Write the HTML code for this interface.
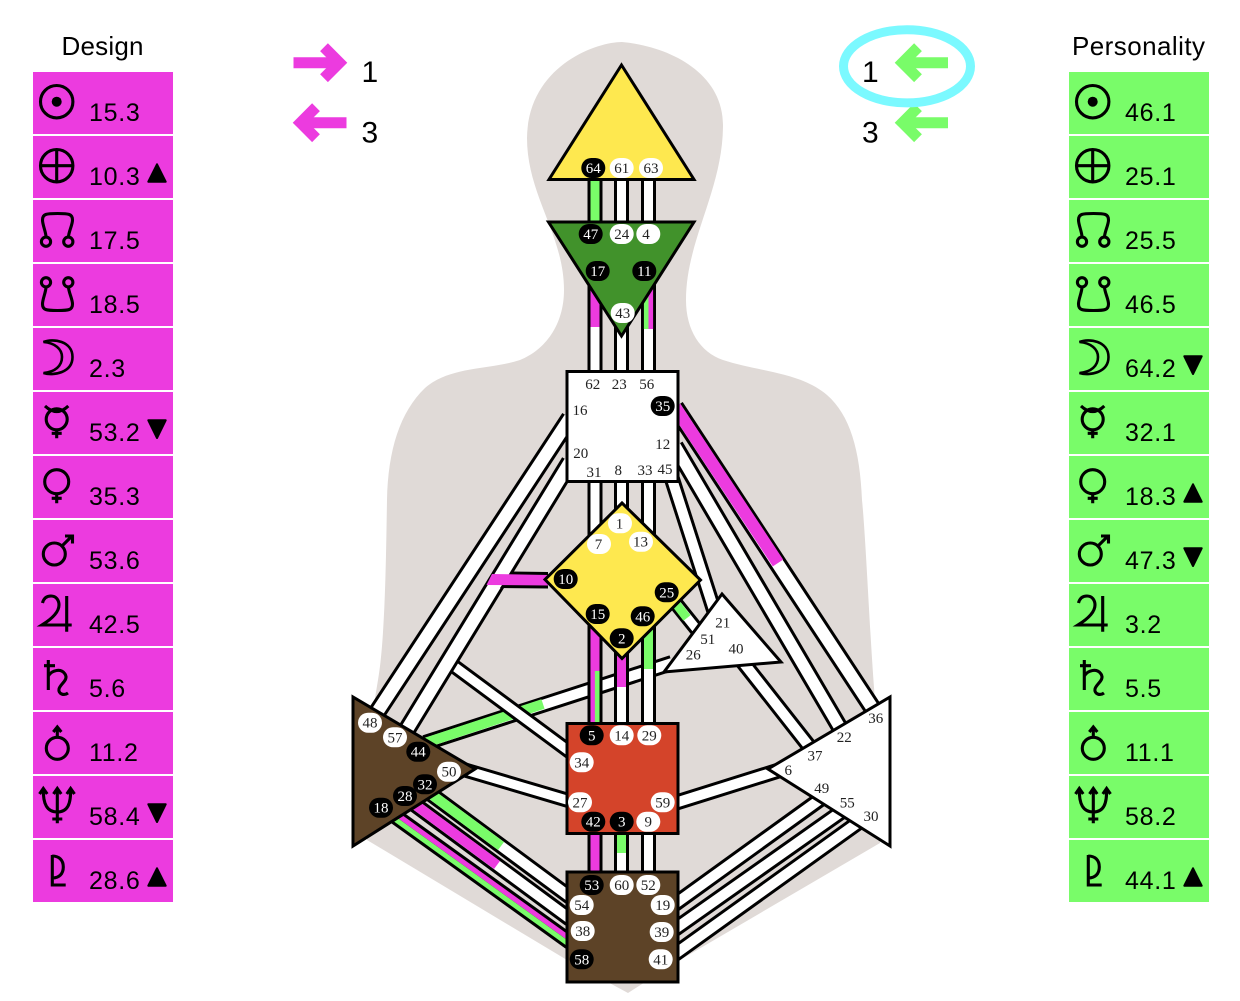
<!DOCTYPE html>
<html lang="en"><head><meta charset="utf-8"><title>Body Graph</title>
<style>
html,body{margin:0;padding:0;background:#fff}
svg{display:block}
.pt{font-family:"Liberation Sans",Arial,sans-serif;font-size:25px;letter-spacing:.7px;fill:#000}
.tt{font-family:"Liberation Sans",Arial,sans-serif;font-size:26px;fill:#000}
.nn{font-family:"Liberation Sans",Arial,sans-serif;font-size:30px;fill:#000}
.n{font-family:"Liberation Serif","Times New Roman",serif;font-size:15px;text-anchor:middle;fill:#222}
.b{fill:#fff}
.k{stroke:#000;stroke-width:15;fill:none}
.w{stroke:#fff;stroke-width:9;fill:none}
.m{stroke:#EC3BDF;stroke-width:9;fill:none}
.g{stroke:#79FC69;stroke-width:9;fill:none}
.s18{stroke-width:18.4}.s12{stroke-width:12.4}
.s17{stroke-width:17.5}.s11{stroke-width:11.5}
.s16{stroke-width:16}.s10{stroke-width:10}
.hm{stroke:#EC3BDF;stroke-width:4.6;fill:none}
.hg{stroke:#79FC69;stroke-width:4.6;fill:none}
.h5{stroke-width:5}
.ic{fill:none;stroke:#000;stroke-width:3.1}
.tr{fill:#000;stroke:#000;stroke-width:2;stroke-linejoin:round}
.ar{fill:none;stroke-width:11;stroke-linejoin:miter}
</style></head><body>
<svg xmlns="http://www.w3.org/2000/svg" width="1240" height="1001" viewBox="0 0 1240 1001">
<rect width="1240" height="1001" fill="#fff"/>

<!-- body -->
<path fill="#E0DAD7" d="M622 42C596 42 528 66 527 138C527 195 564 235 564 290C564 325 545 350 520 360C490 370 450 366 425 388C400 412 388 450 387 500C386 560 385 640 378 680L373 710L367 840L567 960L628 993L680 960L880 843L875 700C870 640 866 540 862 500C860 450 850 415 827 395C800 372 760 372 723 360C700 352 686 330 686 300C686 240 723 190 723 125C723 72 668 46 622 42Z"/>

<!-- channel 26-44 -->
<line class="k s16" x1="425" y1="743" x2="672" y2="663"/>
<line class="w s10" x1="425" y1="743" x2="672" y2="663"/>
<line class="g s10" x1="425" y1="743" x2="543" y2="704"/>

<!-- channel 20-34 -->
<line class="k" x1="445" y1="659.5" x2="570" y2="752"/>
<line class="w" x1="445" y1="659.5" x2="570" y2="752"/>

<!-- left diagonals -->
<line class="k s18" x1="372" y1="720" x2="570" y2="418"/>
<line class="w s12" x1="372" y1="720" x2="570" y2="418"/>
<line class="k s18" x1="403" y1="736" x2="570" y2="462"/>
<line class="w s12" x1="403" y1="736" x2="570" y2="462"/>

<!-- branch 10 -->
<polygon fill="#000" points="511,571.5 548,572 548,588.5 500,588"/>
<polygon fill="#EC3BDF" points="492,574 548,575 548,585.5 486.5,585"/>

<!-- right diagonals -->
<line class="k s18" x1="675" y1="407" x2="875" y2="712"/>
<line class="w s12" x1="675" y1="407" x2="875" y2="712"/>
<line class="m s12" x1="675" y1="407" x2="778" y2="563"/>
<line class="k s17" x1="675" y1="446" x2="843" y2="733"/>
<line class="w s11" x1="675" y1="446" x2="843" y2="733"/>
<line class="k s16" x1="735" y1="652" x2="812" y2="750"/>
<line class="w s10" x1="735" y1="652" x2="812" y2="750"/>
<line class="k s16" x1="671" y1="476" x2="714" y2="610"/>
<line class="w s10" x1="671" y1="476" x2="714" y2="610"/>
<line class="k" x1="670" y1="596" x2="710" y2="646"/>
<line class="w" x1="670" y1="596" x2="710" y2="646"/>
<line class="g" x1="670" y1="596" x2="687" y2="618"/>

<!-- sacral side -->
<line class="k" x1="455" y1="767" x2="570" y2="801"/>
<line class="w" x1="455" y1="767" x2="570" y2="801"/>
<line class="k s16" x1="675" y1="803" x2="785" y2="768.5"/>
<line class="w s10" x1="675" y1="803" x2="785" y2="768.5"/>

<!-- spleen to root -->
<line class="k s16" x1="390" y1="812.5" x2="570" y2="942"/>
<line class="hm h5" x1="391.5" y1="810.5" x2="571.5" y2="940"/>
<line class="hg h5" x1="388.5" y1="814.5" x2="568.5" y2="944"/>
<line class="k s16" x1="410" y1="801" x2="570" y2="919"/>
<line class="w s10" x1="410" y1="801" x2="570" y2="919"/>
<line class="m s10" x1="410" y1="801" x2="497" y2="865"/>
<line class="k s16" x1="428" y1="792" x2="570" y2="897"/>
<line class="w s10" x1="428" y1="792" x2="570" y2="897"/>
<line class="g s10" x1="428" y1="792" x2="501" y2="846"/>

<!-- root to solar plexus -->
<line class="k s16" x1="675" y1="904" x2="822" y2="798"/>
<line class="w s10" x1="675" y1="904" x2="822" y2="798"/>
<line class="k s16" x1="675" y1="929" x2="841" y2="812"/>
<line class="w s10" x1="675" y1="929" x2="841" y2="812"/>
<line class="k s16" x1="675" y1="954" x2="859" y2="822"/>
<line class="w s10" x1="675" y1="954" x2="859" y2="822"/>

<!-- verticals -->
<line class="k" x1="595" y1="175" x2="595" y2="225"/><line class="g" x1="595" y1="175" x2="595" y2="225"/>
<line class="k" x1="621.5" y1="175" x2="621.5" y2="225"/><line class="w" x1="621.5" y1="175" x2="621.5" y2="225"/>
<line class="k" x1="648.5" y1="175" x2="648.5" y2="225"/><line class="w" x1="648.5" y1="175" x2="648.5" y2="225"/>

<line class="k" x1="595" y1="270" x2="595" y2="375"/><line class="w" x1="595" y1="270" x2="595" y2="375"/>
<line class="m" x1="595" y1="270" x2="595" y2="327"/>
<line class="k" x1="621.5" y1="300" x2="621.5" y2="375"/><line class="w" x1="621.5" y1="300" x2="621.5" y2="375"/>
<line class="k" x1="648.5" y1="270" x2="648.5" y2="375"/><line class="w" x1="648.5" y1="270" x2="648.5" y2="375"/>
<line class="hg" x1="646.2" y1="270" x2="646.2" y2="329"/>
<line class="hm" x1="650.8" y1="270" x2="650.8" y2="329"/>

<line class="k" x1="595" y1="478" x2="595" y2="540"/><line class="w" x1="595" y1="478" x2="595" y2="540"/>
<line class="k" x1="621.5" y1="478" x2="621.5" y2="520"/><line class="w" x1="621.5" y1="478" x2="621.5" y2="520"/>
<line class="k" x1="648.5" y1="478" x2="648.5" y2="540"/><line class="w" x1="648.5" y1="478" x2="648.5" y2="540"/>

<line class="k" x1="595" y1="620" x2="595" y2="727"/><line class="m" x1="595" y1="620" x2="595" y2="727"/>
<line class="hg" x1="597.2" y1="671" x2="597.2" y2="727"/>
<line class="k" x1="621.5" y1="645" x2="621.5" y2="727"/><line class="w" x1="621.5" y1="645" x2="621.5" y2="727"/>
<line class="m" x1="621.5" y1="645" x2="621.5" y2="687"/>
<line class="k" x1="648.5" y1="620" x2="648.5" y2="727"/><line class="w" x1="648.5" y1="620" x2="648.5" y2="727"/>
<line class="g" x1="648.5" y1="620" x2="648.5" y2="669"/>

<line class="k" x1="595" y1="830" x2="595" y2="875"/><line class="m" x1="595" y1="830" x2="595" y2="875"/>
<line class="k" x1="621.5" y1="830" x2="621.5" y2="875"/><line class="w" x1="621.5" y1="830" x2="621.5" y2="875"/>
<line class="g" x1="621.5" y1="830" x2="621.5" y2="853"/>
<line class="k" x1="648.5" y1="830" x2="648.5" y2="875"/><line class="w" x1="648.5" y1="830" x2="648.5" y2="875"/>

<!-- centres -->
<g stroke="#000" stroke-width="3">
<polygon fill="#FEE84F" points="621.5,65 549,179.5 694,179.5"/>
<polygon fill="#41922B" points="548.5,222 694,222 621.5,336"/>
<rect fill="#fff" x="567" y="371.5" width="111" height="110"/>
<polygon fill="#fff" points="722,594 781,662 664,672"/>
<polygon fill="#FEE84F" points="622,503 700.5,580 622,658.5 545,579.5"/>
<polygon fill="#5D4327" points="353,697 353,846 475,769"/>
<rect fill="#D4442A" x="567" y="723.5" width="111" height="110"/>
<rect fill="#5D4327" x="567" y="872" width="111" height="110"/>
<polygon fill="#fff" points="890,697 890,846 768,769"/>
</g>

<!-- pills -->
<g fill="#000">
<rect x="581.3" y="158" width="24" height="20" rx="10"/><rect x="578.7" y="224" width="24" height="20" rx="10"/>
<rect x="585.7" y="261" width="24" height="20" rx="10"/><rect x="632.3" y="261" width="24" height="20" rx="10"/>
<rect x="650.7" y="396" width="24" height="20" rx="10"/>
<rect x="553.7" y="569" width="24" height="20" rx="10"/><rect x="654.7" y="582.3" width="24" height="20" rx="10"/>
<rect x="585.7" y="604" width="24" height="20" rx="10"/><rect x="630.7" y="606.3" width="24" height="20" rx="10"/>
<rect x="609.7" y="628.3" width="24" height="20" rx="10"/>
<rect x="406.3" y="741.7" width="24" height="20" rx="10"/><rect x="413" y="774.3" width="24" height="20" rx="10"/>
<rect x="393" y="786" width="24" height="20" rx="10"/><rect x="369" y="797.7" width="24" height="20" rx="10"/>
<rect x="579.7" y="725.3" width="24" height="20" rx="10"/><rect x="581.3" y="811.7" width="24" height="20" rx="10"/>
<rect x="609.7" y="811.7" width="24" height="20" rx="10"/><rect x="579.7" y="875" width="24" height="20" rx="10"/>
<rect x="569.7" y="949.3" width="24" height="20" rx="10"/>
</g>
<g fill="#fff">
<rect x="609.7" y="158" width="24" height="20" rx="10"/><rect x="639" y="158" width="24" height="20" rx="10"/>
<rect x="609.7" y="224" width="24" height="20" rx="10"/><rect x="636.3" y="224" width="24" height="20" rx="10"/>
<rect x="610.7" y="303" width="24" height="20" rx="10"/>
<rect x="608" y="513.3" width="24" height="20" rx="10"/><rect x="587" y="534" width="24" height="20" rx="10"/>
<rect x="629" y="531.7" width="24" height="20" rx="10"/>
<rect x="358" y="712.7" width="24" height="20" rx="10"/><rect x="383" y="727.3" width="24" height="20" rx="10"/>
<rect x="437" y="761.7" width="24" height="20" rx="10"/>
<rect x="609.7" y="725.3" width="24" height="20" rx="10"/><rect x="637.3" y="725.3" width="24" height="20" rx="10"/>
<rect x="569.7" y="752.3" width="24" height="20" rx="10"/><rect x="568" y="792.3" width="24" height="20" rx="10"/>
<rect x="650.7" y="792.3" width="24" height="20" rx="10"/><rect x="636.3" y="811.7" width="24" height="20" rx="10"/>
<rect x="609.7" y="875" width="24" height="20" rx="10"/><rect x="636.3" y="875" width="24" height="20" rx="10"/>
<rect x="569.7" y="895" width="24" height="20" rx="10"/><rect x="650.7" y="895" width="24" height="20" rx="10"/>
<rect x="570.7" y="921" width="24" height="20" rx="10"/><rect x="649.7" y="922" width="24" height="20" rx="10"/>
<rect x="648.7" y="949.3" width="24" height="20" rx="10"/>
</g>

<!-- gate numbers -->
<text class="n b" x="593.3" y="173">64</text><text class="n" x="621.7" y="173">61</text><text class="n" x="651" y="173">63</text>
<text class="n b" x="590.7" y="239">47</text><text class="n" x="621.7" y="239">24</text><text class="n" x="646" y="239">4</text>
<text class="n b" x="597.7" y="276">17</text><text class="n b" x="644.3" y="276">11</text><text class="n" x="622.7" y="318">43</text>
<text class="n" x="592.7" y="389">62</text><text class="n" x="619.3" y="389">23</text><text class="n" x="646.7" y="389">56</text>
<text class="n" x="580" y="415">16</text><text class="n b" x="662.7" y="411">35</text><text class="n" x="662.7" y="449">12</text>
<text class="n" x="580.7" y="458">20</text><text class="n" x="594" y="477">31</text><text class="n" x="618.3" y="475">8</text>
<text class="n" x="645" y="475">33</text><text class="n" x="665" y="474">45</text>
<text class="n" x="619.5" y="528.3">1</text><text class="n" x="598.5" y="549">7</text><text class="n" x="640.5" y="546.7">13</text>
<text class="n b" x="565.7" y="584">10</text><text class="n b" x="666.7" y="597.3">25</text><text class="n b" x="597.7" y="619">15</text>
<text class="n b" x="642.7" y="621.3">46</text><text class="n b" x="621.7" y="643.3">2</text>
<text class="n" x="722.7" y="627.3">21</text><text class="n" x="707.7" y="644">51</text><text class="n" x="736" y="653.3">40</text><text class="n" x="693.3" y="659.3">26</text>
<text class="n" x="370" y="727.7">48</text><text class="n" x="395" y="742.3">57</text><text class="n b" x="418.3" y="756.7">44</text>
<text class="n" x="449" y="776.7">50</text><text class="n b" x="425" y="789.3">32</text><text class="n b" x="405" y="801">28</text><text class="n b" x="381" y="812.7">18</text>
<text class="n b" x="591.7" y="740.3">5</text><text class="n" x="621.7" y="740.3">14</text><text class="n" x="649.3" y="740.3">29</text>
<text class="n" x="581.7" y="767.3">34</text><text class="n" x="580" y="807.3">27</text><text class="n" x="662.7" y="807.3">59</text>
<text class="n b" x="593.3" y="826.7">42</text><text class="n b" x="621.7" y="826.7">3</text><text class="n" x="648.3" y="826.7">9</text>
<text class="n b" x="591.7" y="890">53</text><text class="n" x="621.7" y="890">60</text><text class="n" x="648.3" y="890">52</text>
<text class="n" x="581.7" y="910">54</text><text class="n" x="662.7" y="910">19</text><text class="n" x="582.7" y="936">38</text>
<text class="n" x="661.7" y="937">39</text><text class="n b" x="581.7" y="964.3">58</text><text class="n" x="660.7" y="964.3">41</text>
<text class="n" x="875.7" y="723">36</text><text class="n" x="844.3" y="742">22</text><text class="n" x="815" y="760.5">37</text>
<text class="n" x="788.3" y="775">6</text><text class="n" x="821.7" y="793">49</text><text class="n" x="847.3" y="807.3">55</text><text class="n" x="871" y="821">30</text>

<!-- top arrows -->
<g stroke="#EC3BDF" class="ar">
<path d="M293.5 62.7H339"/><path d="M324 47.2L339.5 62.7L324 78.2"/>
<path d="M346.5 122.7H301"/><path d="M316 107.2L300.5 122.7L316 138.2"/>
</g>
<g stroke="#79FC69" class="ar">
<path d="M948 62.7H903"/><path d="M918 47.2L902.5 62.7L918 78.2"/>
<path d="M948 122.7H903"/><path d="M918 107.2L902.5 122.7L918 138.2"/>
</g>
<ellipse cx="907" cy="66.3" rx="63.5" ry="36.6" fill="none" stroke="#7BF9FF" stroke-width="9"/>
<text class="nn" x="361.5" y="82">1</text><text class="nn" x="361.5" y="142.5">3</text>
<text class="nn" x="862" y="82">1</text><text class="nn" x="862" y="142.5">3</text>

<!-- titles -->
<text class="tt" x="61.5" y="55" textLength="82">Design</text>
<text class="tt" x="1072" y="55" textLength="133">Personality</text>

<!-- Design panel -->
<g fill="#EC3BDF">
<rect x="33" y="72" width="140" height="62"/><rect x="33" y="136" width="140" height="62"/><rect x="33" y="200" width="140" height="62"/>
<rect x="33" y="264" width="140" height="62"/><rect x="33" y="328" width="140" height="62"/><rect x="33" y="392" width="140" height="62"/>
<rect x="33" y="456" width="140" height="62"/><rect x="33" y="520" width="140" height="62"/><rect x="33" y="584" width="140" height="62"/>
<rect x="33" y="648" width="140" height="62"/><rect x="33" y="712" width="140" height="62"/><rect x="33" y="776" width="140" height="62"/>
<rect x="33" y="840" width="140" height="62"/>
</g>
<!-- Personality panel -->
<g fill="#79FC69">
<rect x="1069" y="72" width="140" height="62"/><rect x="1069" y="136" width="140" height="62"/><rect x="1069" y="200" width="140" height="62"/>
<rect x="1069" y="264" width="140" height="62"/><rect x="1069" y="328" width="140" height="62"/><rect x="1069" y="392" width="140" height="62"/>
<rect x="1069" y="456" width="140" height="62"/><rect x="1069" y="520" width="140" height="62"/><rect x="1069" y="584" width="140" height="62"/>
<rect x="1069" y="648" width="140" height="62"/><rect x="1069" y="712" width="140" height="62"/><rect x="1069" y="776" width="140" height="62"/>
<rect x="1069" y="840" width="140" height="62"/>
</g>

<!-- values -->
<text class="pt" x="89" y="121">15.3</text><text class="pt" x="89" y="185">10.3</text><text class="pt" x="89" y="249">17.5</text>
<text class="pt" x="89" y="313">18.5</text><text class="pt" x="89" y="377">2.3</text><text class="pt" x="89" y="441">53.2</text>
<text class="pt" x="89" y="505">35.3</text><text class="pt" x="89" y="569">53.6</text><text class="pt" x="89" y="633">42.5</text>
<text class="pt" x="89" y="697">5.6</text><text class="pt" x="89" y="761">11.2</text><text class="pt" x="89" y="825">58.4</text>
<text class="pt" x="89" y="889">28.6</text>
<text class="pt" x="1125" y="121">46.1</text><text class="pt" x="1125" y="185">25.1</text><text class="pt" x="1125" y="249">25.5</text>
<text class="pt" x="1125" y="313">46.5</text><text class="pt" x="1125" y="377">64.2</text><text class="pt" x="1125" y="441">32.1</text>
<text class="pt" x="1125" y="505">18.3</text><text class="pt" x="1125" y="569">47.3</text><text class="pt" x="1125" y="633">3.2</text>
<text class="pt" x="1125" y="697">5.5</text><text class="pt" x="1125" y="761">11.1</text><text class="pt" x="1125" y="825">58.2</text>
<text class="pt" x="1125" y="889">44.1</text>

<!-- Design icons -->
<g transform="translate(33,72)"><circle class="ic" cx="23.7" cy="29.7" r="16.2"/><circle cx="23.7" cy="29.7" r="5"/></g>
<g transform="translate(33,136)"><circle class="ic" cx="23.7" cy="29.7" r="16.2"/><path class="ic" d="M23.7 13.5V45.9M7.5 29.7H39.9"/></g>
<g transform="translate(33,200)" class="ic"><circle cx="13" cy="41.7" r="4.6"/><circle cx="35.3" cy="41.7" r="4.6"/><path d="M13 37C13 32 9.5 25 9.5 20C9.5 14 13 13.5 24.5 13.5C36 13.5 39.5 14 39.5 20C39.5 25 35.5 32 35.5 37"/></g>
<g transform="translate(33,264)" class="ic"><circle cx="13" cy="18.3" r="4.6"/><circle cx="35.3" cy="18.3" r="4.6"/><path d="M13 23C13 28 9.5 35 9.5 40C9.5 46 13 46.5 24.5 46.5C36 46.5 39.5 46 39.5 40C39.5 35 35.5 28 35.5 23"/></g>
<g transform="translate(33,328)" class="ic"><path stroke-width="2.6" d="M10.5 14C20 10 39.5 13 39.5 29C39.5 45 20 48 10.5 45C22 44 29 38 29 29C29 21 22 15 10.5 14Z"/></g>
<g transform="translate(33,392)" class="ic"><circle cx="23.7" cy="27.3" r="10.5"/><path d="M12 14Q23.7 25 35.3 14M23.7 37.3V46.3M18.7 41.3H28.7"/></g>
<g transform="translate(33,456)" class="ic"><circle cx="23.7" cy="25.7" r="12"/><path d="M23.7 37.7V47.3M18.7 42.3H28.7"/></g>
<g transform="translate(33,520)" class="ic"><circle cx="21.3" cy="34" r="11"/><path d="M29 26L39 16M32 16H39.5V23.5"/></g>
<g transform="translate(33,584)" class="ic"><path d="M33.7 12V47.7M9.5 19C11 13 15 12 18 12C23 12 26 16 26 21C26 29 17 36 9 41H38.7"/></g>
<g transform="translate(33,648)" class="ic"><path d="M15.3 12V42M11 17.7H22M15.3 28C19 22 28 20 32 26C36 32 27 36 26 41C25 46 31 48 35 45"/></g>
<g transform="translate(33,712)" class="ic"><circle cx="24.3" cy="36.3" r="11"/><path d="M24.3 25V15.5M20.3 20L24.3 15L28.3 20"/></g>
<g transform="translate(33,776)" class="ic"><path d="M10.3 13C10 28 14 36 24.3 36C34.6 36 38 28 37.6 13M24.3 13V47.3M19.3 43H29.3M6.5 18L10.3 12.5L14.2 18M20.5 18L24.3 12.5L28.2 18M33.8 18L37.6 12.5L41.5 18"/></g>
<g transform="translate(33,840)" class="ic"><path d="M19.3 15V45H32.7M19.3 16C26 16 30.3 20 30.3 27C30.3 34 26 38 19.3 38"/></g>

<!-- Personality icons -->
<g transform="translate(1069,72)"><circle class="ic" cx="23.7" cy="29.7" r="16.2"/><circle cx="23.7" cy="29.7" r="5"/></g>
<g transform="translate(1069,136)"><circle class="ic" cx="23.7" cy="29.7" r="16.2"/><path class="ic" d="M23.7 13.5V45.9M7.5 29.7H39.9"/></g>
<g transform="translate(1069,200)" class="ic"><circle cx="13" cy="41.7" r="4.6"/><circle cx="35.3" cy="41.7" r="4.6"/><path d="M13 37C13 32 9.5 25 9.5 20C9.5 14 13 13.5 24.5 13.5C36 13.5 39.5 14 39.5 20C39.5 25 35.5 32 35.5 37"/></g>
<g transform="translate(1069,264)" class="ic"><circle cx="13" cy="18.3" r="4.6"/><circle cx="35.3" cy="18.3" r="4.6"/><path d="M13 23C13 28 9.5 35 9.5 40C9.5 46 13 46.5 24.5 46.5C36 46.5 39.5 46 39.5 40C39.5 35 35.5 28 35.5 23"/></g>
<g transform="translate(1069,328)" class="ic"><path stroke-width="2.6" d="M10.5 14C20 10 39.5 13 39.5 29C39.5 45 20 48 10.5 45C22 44 29 38 29 29C29 21 22 15 10.5 14Z"/></g>
<g transform="translate(1069,392)" class="ic"><circle cx="23.7" cy="27.3" r="10.5"/><path d="M12 14Q23.7 25 35.3 14M23.7 37.3V46.3M18.7 41.3H28.7"/></g>
<g transform="translate(1069,456)" class="ic"><circle cx="23.7" cy="25.7" r="12"/><path d="M23.7 37.7V47.3M18.7 42.3H28.7"/></g>
<g transform="translate(1069,520)" class="ic"><circle cx="21.3" cy="34" r="11"/><path d="M29 26L39 16M32 16H39.5V23.5"/></g>
<g transform="translate(1069,584)" class="ic"><path d="M33.7 12V47.7M9.5 19C11 13 15 12 18 12C23 12 26 16 26 21C26 29 17 36 9 41H38.7"/></g>
<g transform="translate(1069,648)" class="ic"><path d="M15.3 12V42M11 17.7H22M15.3 28C19 22 28 20 32 26C36 32 27 36 26 41C25 46 31 48 35 45"/></g>
<g transform="translate(1069,712)" class="ic"><circle cx="24.3" cy="36.3" r="11"/><path d="M24.3 25V15.5M20.3 20L24.3 15L28.3 20"/></g>
<g transform="translate(1069,776)" class="ic"><path d="M10.3 13C10 28 14 36 24.3 36C34.6 36 38 28 37.6 13M24.3 13V47.3M19.3 43H29.3M6.5 18L10.3 12.5L14.2 18M20.5 18L24.3 12.5L28.2 18M33.8 18L37.6 12.5L41.5 18"/></g>
<g transform="translate(1069,840)" class="ic"><path d="M19.3 15V45H32.7M19.3 16C26 16 30.3 20 30.3 27C30.3 34 26 38 19.3 38"/></g>

<!-- line-change triangles -->
<polygon class="tr" points="157,164.3 148.3,181.7 165.7,181.7"/>
<polygon class="tr" points="148.3,420.3 165.7,420.3 157,438"/>
<polygon class="tr" points="148.3,804.3 165.7,804.3 157,822"/>
<polygon class="tr" points="157,868.3 148.3,885.7 165.7,885.7"/>
<polygon class="tr" points="1184.3,356.3 1201.7,356.3 1193,374"/>
<polygon class="tr" points="1193,484.3 1184.3,501.7 1201.7,501.7"/>
<polygon class="tr" points="1184.3,548.3 1201.7,548.3 1193,566"/>
<polygon class="tr" points="1193,868.3 1184.3,885.7 1201.7,885.7"/>
</svg>
</body></html>
